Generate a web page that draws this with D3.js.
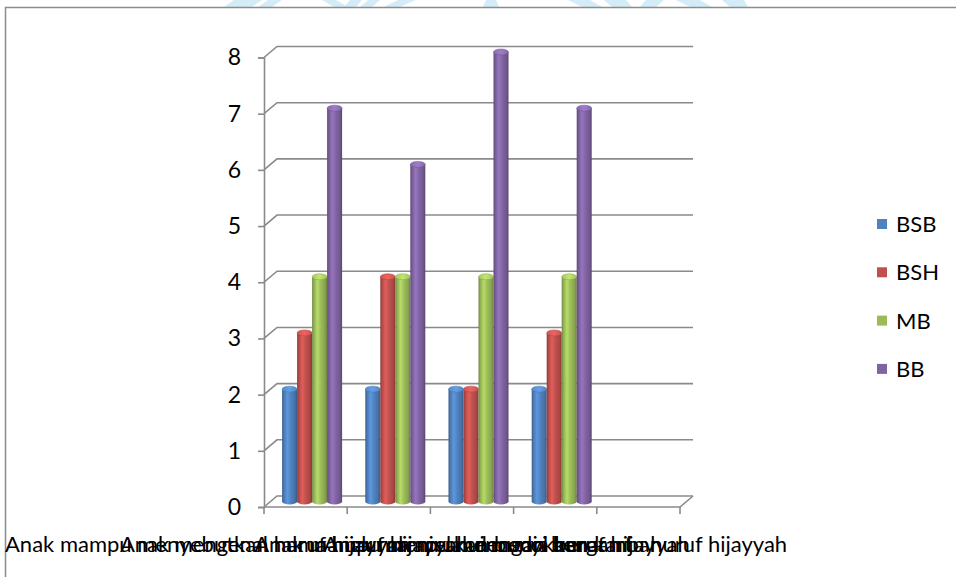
<!DOCTYPE html>
<html>
<head>
<meta charset="utf-8">
<script src="https://cdn.jsdelivr.net/npm/d3@7"></script>
<style>
  html, body { margin: 0; padding: 0; background: #ffffff; }
  svg { display: block; }
  text { font-family: Lato, "Open Sans", sans-serif; fill: #000; }
</style>
</head>
<body>
<svg id="chart" width="956" height="577"></svg>
<script>
// ---- data ----
const categories = [
  "Anak mampu menyebutkan nama huruf hijayyah dengan benar",
  "Anak mengenal huruf hijayyah melalui media bergambar",
  "Anak mampu menirukan bunyi huruf hijayyah",
  "Anak mampu mencocokkan kartu huruf hijayyah",
  ""
];
const seriesNames = ["BSB", "BSH", "MB", "BB"];
const BSB = [2, 2, 2, 2];
const BSH = [3, 4, 2, 3];
const MB  = [4, 4, 4, 4];
const BB  = [7, 6, 8, 7];
const yTicks = [0, 1, 2, 3, 4, 5, 6, 7, 8];
const seriesColors = ["#4F81BD", "#C0504D", "#9BBB59", "#8064A2"];

const seriesValues = { BSB, BSH, MB, BB };

// ---- layout ----
const svg = d3.select("#chart");
const DX = 13, DY = -11;          // 3-D depth offset
const axisX = 264;

// watermark fragments at top (decorative)
const wm = svg.append("g").attr("fill", "#d3ecf7");
[[234,0,262,0,252,7,224,7],[268,0,282,0,272,7,258,7],[322,0,336,0,348,7,334,7],[350,0,362,0,356,7,344,7],
 [368,0,380,0,372,7,360,7],[398,0,416,0,400,7,384,7],[486,0,496,0,499,7,483,7],
 [568,0,590,0,602,7,582,7],[604,0,626,0,632,7,612,7],[646,0,664,0,656,7,640,7],[676,0,700,0,712,7,690,7],[722,0,744,0,748,7,730,7]]
  .forEach(p => wm.append("polygon").attr("points", [[p[0],p[1]],[p[2],p[3]],[p[4],p[5]],[p[6],p[7]]].join(" ")));

// chart frame
svg.append("rect").attr("x", 5.5).attr("y", 7.5).attr("width", 1000).attr("height", 700)
  .attr("fill", "none").attr("stroke", "#8c8c8c").attr("stroke-width", 1.5);

const x = d3.scaleBand().domain(d3.range(categories.length)).range([axisX, 680]);
const inner = d3.scaleBand().domain(seriesNames).range([0, x.bandwidth()]).paddingInner(0).paddingOuter(0.773);
const y = d3.scaleLinear().domain([0, 8]).range([507, 57.5]);
const color = d3.scaleOrdinal().domain(seriesNames).range(seriesColors);

const grid = "#8a8a8a";
// gridlines (left wall diagonal + back wall)
const gl = svg.append("g").attr("fill", "none").attr("stroke", grid).attr("stroke-width", 1.6);
gl.selectAll("path").data(yTicks).join("path")
  .attr("d", d => `M${axisX},${y(d)} L${axisX + DX},${y(d) + DY} L${680 + DX},${y(d) + DY}`);
// floor front edge + right edge
gl.append("path").attr("d", `M${axisX},${y(0)} L680,${y(0)} L${680 + DX},${y(0) + DY}`);

// y axis
const yAxis = svg.append("g").attr("transform", `translate(${axisX},0)`)
  .call(d3.axisLeft(y).tickValues(yTicks).tickFormat(d3.format("d")).tickSize(6).tickPadding(17));
yAxis.select(".domain").attr("stroke", grid).attr("stroke-width", 1.6);
yAxis.selectAll(".tick line").attr("stroke", grid).attr("stroke-width", 1.6);
yAxis.selectAll(".tick text").attr("font-size", 23).attr("font-family", "Lato, sans-serif").attr("fill", "#000");

// x tick marks at category boundaries
const edges = x.domain().map(i => x(i)).concat([x.range()[1]]);
svg.append("g").selectAll("line").data(edges).join("line")
  .attr("x1", d => d).attr("x2", d => d).attr("y1", y(0)).attr("y2", y(0) + 7)
  .attr("stroke", grid).attr("stroke-width", 1.6);

// gradients for cylinders
const defs = svg.append("defs");
seriesNames.forEach(s => {
  const c = d3.color(color(s));
  const g = defs.append("linearGradient").attr("id", "g" + s).attr("x1", 0).attr("x2", 1).attr("y1", 0).attr("y2", 0);
  [[0, c.darker(0.9)], [0.12, c.darker(0.2)], [0.35, c.brighter(0.45)], [0.6, c], [0.85, c.darker(0.35)], [1, c.darker(1.0)]]
    .forEach(([o, col]) => g.append("stop").attr("offset", o).attr("stop-color", col));
  const t = defs.append("linearGradient").attr("id", "t" + s).attr("x1", 0).attr("x2", 1).attr("y1", 0).attr("y2", 0);
  [[0, c.brighter(0.2)], [0.5, c.brighter(0.6)], [1, c.brighter(0.1)]]
    .forEach(([o, col]) => t.append("stop").attr("offset", o).attr("stop-color", col));
});

// bars (cylinders)
const rx = inner.bandwidth() / 2, ry = 3;
const barData = [];
seriesNames.forEach(s => seriesValues[s].forEach((v, i) => barData.push({ s, i, v })));
const bars = svg.append("g").selectAll("g").data(barData).join("g")
  .attr("transform", d => `translate(${x(d.i) + inner(d.s) + DX / 2},${DY / 2})`);
bars.append("path")
  .attr("d", d => {
    const top = y(d.v), bot = y(0), w = inner.bandwidth();
    return `M0,${top} L0,${bot} A${rx},${ry} 0 0 0 ${w},${bot} L${w},${top} Z`;
  })
  .attr("fill", d => `url(#g${d.s})`);
bars.append("ellipse")
  .attr("cx", rx).attr("cy", d => y(d.v)).attr("rx", rx).attr("ry", ry)
  .attr("fill", d => `url(#t${d.s})`)
  .attr("stroke", d => d3.color(color(d.s)).darker(0.4)).attr("stroke-width", 0.5);

// category labels (overlapping, as in the original chart)
svg.append("g").selectAll("text").data(categories).join("text")
  .attr("x", (d, i) => x(i) + x.bandwidth() / 2)
  .attr("y", 552)
  .attr("text-anchor", "middle")
  .attr("font-size", 22)
  .text(d => d);

// legend
const legend = svg.append("g").selectAll("g").data(seriesNames).join("g")
  .attr("transform", (d, i) => `translate(877,${224 + i * 48.3})`);
legend.append("rect").attr("x", 0).attr("y", -5).attr("width", 10).attr("height", 10).attr("fill", d => color(d));
legend.append("text").attr("x", 19).attr("y", 8).attr("font-size", 22).text(d => d);
</script>
</body>
</html>
